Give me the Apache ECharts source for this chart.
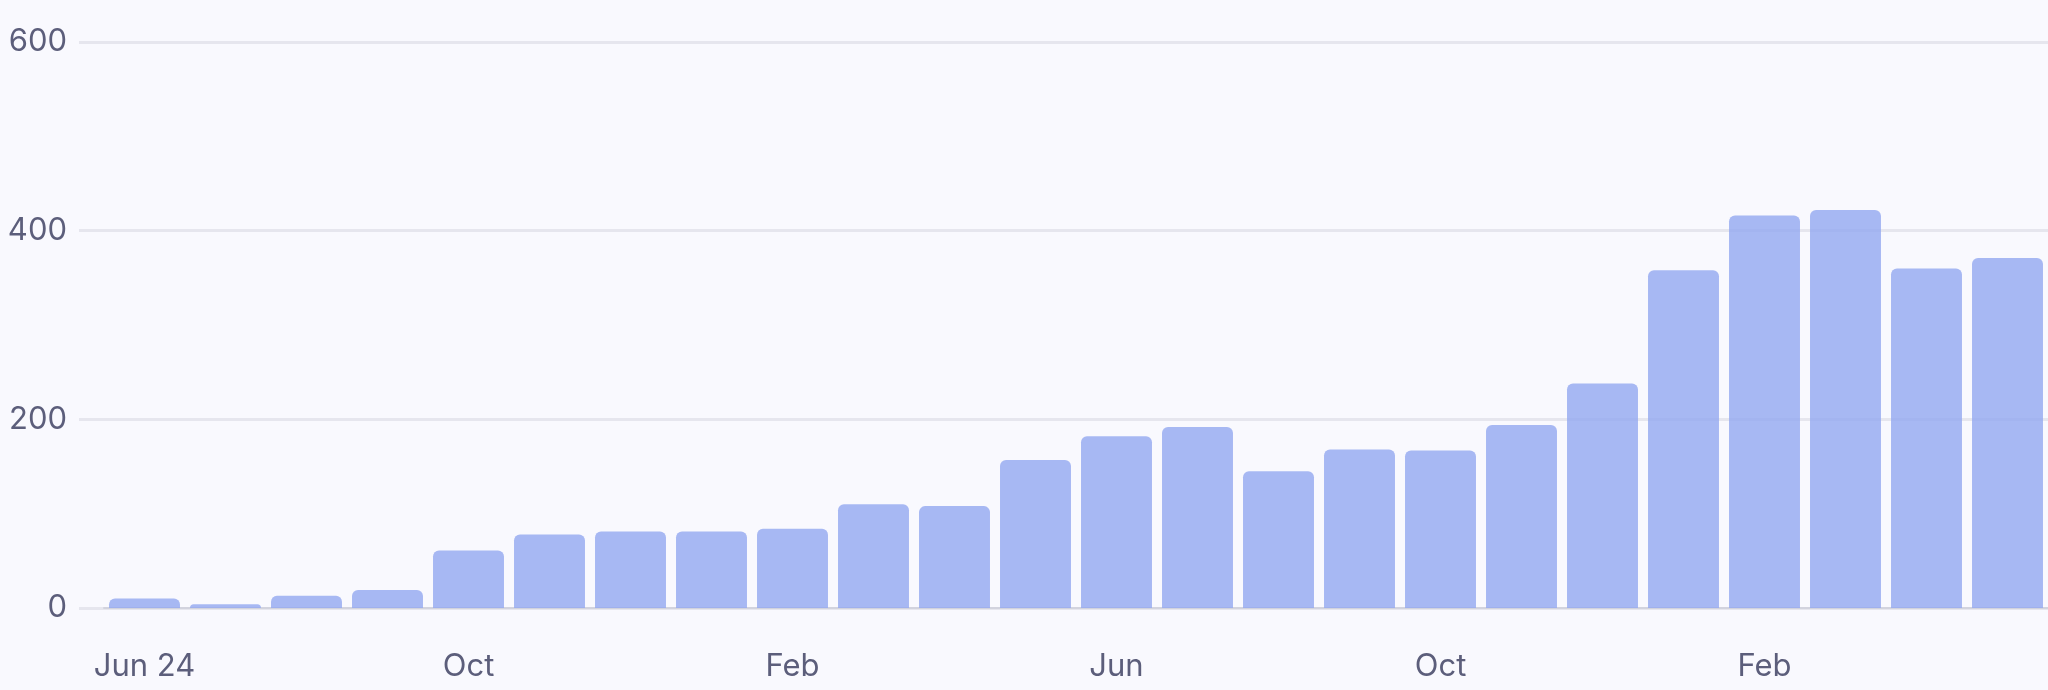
<!DOCTYPE html>
<html>
<head>
<meta charset="utf-8">
<script src="https://cdn.jsdelivr.net/npm/echarts@6/dist/echarts.min.js"></script>
<style>
  html, body { margin: 0; padding: 0; background: #f9f9fe; }
  #chart { width: 2048px; height: 690px; }
</style>
</head>
<body>
<div id="chart"></div>
<script>
const categories = ["Jun 24","Jul","Aug","Sep","Oct","Nov","Dec","Jan","Feb","Mar","Apr","May",
                    "Jun","Jul","Aug","Sep","Oct","Nov","Dec","Jan","Feb","Mar","Apr","May"];
const values = [10, 4, 13, 19, 61, 78, 81, 81, 84, 110, 108, 157,
                182, 192, 145, 168, 167, 194, 238, 358, 416, 422, 360, 371];
const yTicks = [0, 200, 400, 600];

const chart = echarts.init(document.getElementById('chart'), null, { renderer: 'canvas' });
const textColor = '#5c5e7b';
const font = 'Inter';
chart.setOption({
  backgroundColor: '#f9f9fe',
  animation: false,
  grid: [
    { left: 79, right: 0, top: 42, bottom: 82, containLabel: false },
    { left: 104, right: -1, top: 42, bottom: 82, containLabel: false }
  ],
  xAxis: [
    { gridIndex: 0, type: 'category', data: categories, show: false },
    {
      gridIndex: 1, type: 'category', data: categories,
      axisLine: { show: true, lineStyle: { color: '#d2d3de', width: 2 } },
      axisTick: { show: false },
      axisLabel: { interval: 3, color: textColor, fontFamily: font, fontSize: 31, margin: 43 }
    }
  ],
  yAxis: [
    {
      gridIndex: 0, type: 'value', min: yTicks[0], max: yTicks[yTicks.length - 1], interval: 200,
      axisLine: { show: false }, axisTick: { show: false },
      axisLabel: { color: textColor, fontFamily: font, fontSize: 31, margin: 12 },
      splitLine: { show: true, lineStyle: { color: '#e6e6ee', width: 3 } }
    },
    {
      gridIndex: 1, type: 'value', min: yTicks[0], max: yTicks[yTicks.length - 1], interval: 200,
      show: false, splitLine: { show: false }
    }
  ],
  series: [{
    type: 'bar',
    xAxisIndex: 1, yAxisIndex: 1,
    data: values,
    barCategoryGap: '12.4%',
    itemStyle: { color: 'rgba(146,168,240,0.8)', borderRadius: [6, 6, 0, 0] }
  }]
});
</script>
</body>
</html>
